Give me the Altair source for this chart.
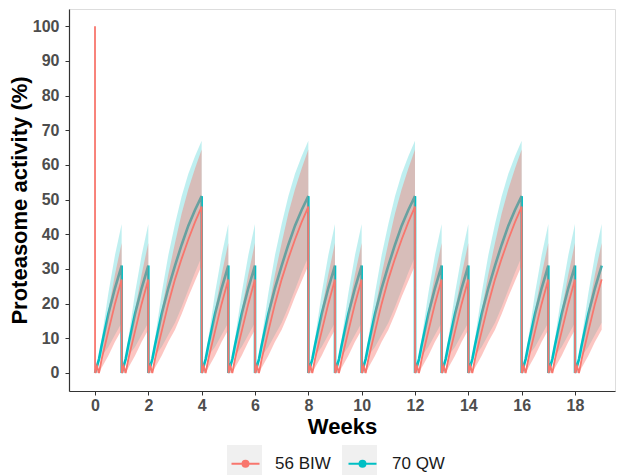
import altair as alt
import pandas as pd

# ---- data ----
series_names = ["56 BIW", "70 QW"]
series_colors = ["#F8766D", "#00BFC4"]
dose_weeks = [0, 1, 2, 4, 5, 6, 8, 9, 10, 12, 13, 14, 16, 17, 18]
end_week = 19.0
start_activity = 100

# recovery after a dose (weeks after the dose)
rec_weeks = [0.15, 0.25, 0.5, 0.75, 1.0, 1.25, 1.5, 1.75, 2.0]
qw_mean = [4, 8, 17, 24.5, 31, 37, 42.5, 47, 51]
qw_lo = [3.5, 5, 7.5, 11, 14.5, 19, 24, 29, 33.5]
qw_hi = [5, 10, 23, 34, 43, 51, 57.5, 62.5, 67]
biw_mean = [0, 4, 12, 20, 27, 33, 38.5, 43.5, 48]
biw_lo = [0, 1.5, 5, 9, 12.5, 17, 22, 26.5, 31]
biw_hi = [0.5, 5, 18, 28.5, 37.5, 46, 53, 59, 64.5]
# small rebound between the two BIW doses of a week
biw_dip_week = 0.075
biw_dip_value = 2.0
biw_dip_hi = 2.5

EPS = 0.002  # tiny step so the drop at a dose is a vertical edge
rows = []


def add(series, week, mean, lo, hi):
    rows.append(dict(series=series, week=week, mean=mean, lo=lo, hi=hi, idx=len(rows)))


# 56 BIW
add(series_names[0], 0, start_activity, start_activity, start_activity)
for i, d in enumerate(dose_weeks):
    nxt = dose_weeks[i + 1] if i + 1 < len(dose_weeks) else end_week
    span = nxt - d
    add(series_names[0], d + EPS, 0, 0, 0)
    add(series_names[0], d + biw_dip_week, biw_dip_value, 0, biw_dip_hi)
    for k, off in enumerate(rec_weeks):
        if off <= span + 1e-9:
            add(series_names[0], d + off, biw_mean[k], biw_lo[k], biw_hi[k])

# 70 QW
for i, d in enumerate(dose_weeks):
    nxt = dose_weeks[i + 1] if i + 1 < len(dose_weeks) else end_week
    span = nxt - d
    add(series_names[1], d + EPS, 0, 0, 0)
    for k, off in enumerate(rec_weeks):
        if off <= span + 1e-9:
            add(series_names[1], d + off, qw_mean[k], qw_lo[k], qw_hi[k])

df = pd.DataFrame(rows)
df["key"] = df["series"]

FONT = "Liberation Sans"

x_scale = alt.Scale(domain=[-0.975, 19.5], nice=False, zero=False)
y_scale = alt.Scale(domain=[-5.2, 105], nice=False, zero=False)

x_axis = alt.Axis(
    values=list(range(0, 19, 2)), title="Weeks", grid=False,
    labelFont=FONT, labelFontSize=16, labelFontWeight="bold", labelColor="#4D4D4D",
    titleFont=FONT, titleFontSize=22, titleFontWeight="bold", titleColor="#000000",
    tickSize=4, tickColor="#333333", domainColor="#333333", domainWidth=1.2,
    labelPadding=2, titlePadding=3, labelFlush=False, labelOverlap=False,
)
y_axis = alt.Axis(
    values=list(range(0, 101, 10)), title="Proteasome activity (%)", grid=False,
    labelFont=FONT, labelFontSize=16, labelFontWeight="bold", labelColor="#4D4D4D",
    titleFont=FONT, titleFontSize=22, titleFontWeight="bold", titleColor="#000000",
    tickSize=4, tickColor="#333333", domainColor="#333333", domainWidth=1.2,
    labelPadding=6, titlePadding=1, labelFlush=False, labelOverlap=False,
)

X = alt.X("week:Q", scale=x_scale, axis=x_axis)
Y = alt.Y("mean:Q", scale=y_scale, axis=y_axis)
order = alt.Order("idx:Q")

base = alt.Chart(df)

sym_path = (
    "M-0.8,0L0.8,0"
    "M-0.17,0A0.17,0.17,0,1,1,0.17,0A0.17,0.17,0,1,1,-0.17,0"
    "M-0.1,0A0.1,0.1,0,1,1,0.1,0A0.1,0.1,0,1,1,-0.1,0"
    "M-0.03,0A0.03,0.03,0,1,1,0.03,0A0.03,0.03,0,1,1,-0.03,0"
)

line_legend = alt.Legend(
    orient="none", legendX=158, legendY=436, direction="horizontal", title=None,
    symbolType=sym_path, symbolSize=1225, symbolStrokeWidth=2, symbolOpacity=1,
    labelFont=FONT, labelFontSize=17, labelColor="#1A1A1A", labelOffset=11,
    columnPadding=13, padding=0, zindex=2,
)
key_legend = alt.Legend(
    orient="none", legendX=158, legendY=436, direction="horizontal", title=None,
    symbolType="square", symbolSize=1225, symbolStrokeWidth=0, symbolOpacity=1,
    labelFont=FONT, labelFontSize=17, labelColor="#1A1A1A", labelOpacity=0, labelOffset=11,
    columnPadding=13, padding=0, zindex=1,
)

color = alt.Color("series:N", scale=alt.Scale(domain=series_names, range=series_colors),
                  legend=line_legend)

qw_band = base.transform_filter(alt.datum.series == series_names[1]).mark_area(
    fill=series_colors[1], fillOpacity=0.25, strokeWidth=0
).encode(x=X, y=alt.Y("lo:Q", scale=y_scale, axis=y_axis), y2=alt.Y2("hi:Q"))

qw_line = base.transform_filter(alt.datum.series == series_names[1]).mark_line(
    strokeWidth=2.6
).encode(x=X, y=Y, color=color, order=order)

biw_band = base.transform_filter(alt.datum.series == series_names[0]).mark_area(
    fill=series_colors[0], fillOpacity=0.42, strokeWidth=0
).encode(x=X, y=alt.Y("lo:Q", scale=y_scale, axis=y_axis), y2=alt.Y2("hi:Q"))

biw_line = base.transform_filter(alt.datum.series == series_names[0]).mark_line(
    strokeWidth=1.8
).encode(x=X, y=Y, color=color, order=order)

keys = base.mark_square(size=0, opacity=0).encode(
    x=X, y=Y,
    fill=alt.Fill("key:N", scale=alt.Scale(range=["#F0F0F0", "#F0F0F0"]),
                  legend=key_legend),
)

chart = alt.layer(qw_band, qw_line, biw_band, biw_line, keys).properties(
    width=546, height=382,
    autosize=alt.AutoSizeParams(type="none"),
    padding={"left": 61, "top": 1, "right": 1, "bottom": 84},
).configure_view(stroke=None).configure(background="white")

chart.save("out.html", embed_options={"renderer": "svg", "actions": False})
